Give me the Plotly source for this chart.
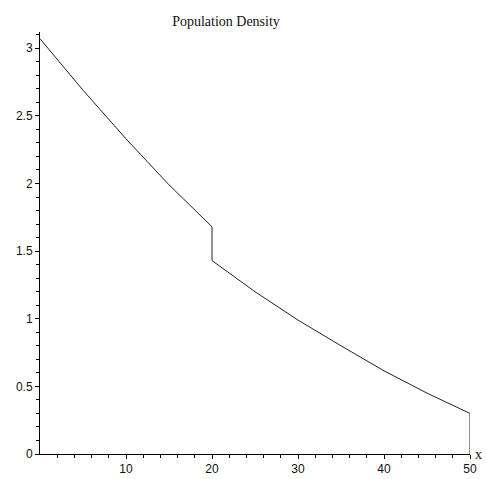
import plotly.graph_objects as go

# Data
x_vals = [0, 5, 10, 15, 20, 20, 25, 30, 35, 40, 45, 50, 50]
y_vals = [3.07, 2.69, 2.33, 1.99, 1.68, 1.43, 1.20, 0.99, 0.80, 0.615, 0.45, 0.30, 0.0]

x_ticks = [10, 20, 30, 40, 50]
x_minor = [2, 4, 6, 8, 12, 14, 16, 18, 22, 24, 26, 28, 32, 34, 36, 38, 42, 44, 46, 48]
y_ticks = [0, 0.5, 1, 1.5, 2, 2.5, 3]
y_ticktext = ["0", "0.5", "1", "1.5", "2", "2.5", "3"]
y_minor = [round(i * 0.1, 1) for i in range(0, 32) if i % 5 != 0]

fig = go.Figure()
fig.add_trace(go.Scatter(x=x_vals, y=y_vals, mode="lines",
                         line=dict(color="#222222", width=1), showlegend=False,
                         hoverinfo="skip"))

axis_font = dict(family="Liberation Sans, Arial, sans-serif", size=12, color="#111111")

fig.update_layout(
    width=487, height=479,
    margin=dict(l=40, r=17, t=32, b=25, autoexpand=False),
    paper_bgcolor="white", plot_bgcolor="white",
    title=dict(text="Population Density", x=226 / 487, xanchor="center",
               xref="container", y=1 - 21 / 479, yanchor="middle",
               font=dict(family="Liberation Serif, Times New Roman, serif", size=14,
                         color="#111111")),
    xaxis=dict(range=[0, 50], showline=True, linecolor="black", linewidth=1,
               showgrid=False, zeroline=False, ticks="outside", ticklen=4,
               tickcolor="black", tickvals=x_ticks, tickfont=axis_font,
               automargin=False,
               minor=dict(tickvals=x_minor, ticks="outside", ticklen=3,
                          tickcolor="black", showgrid=False)),
    yaxis=dict(range=[0, 3.12], showline=True, linecolor="black", linewidth=1,
               showgrid=False, zeroline=False, ticks="outside", ticklen=4,
               tickcolor="black", tickvals=y_ticks, ticktext=y_ticktext,
               tickfont=axis_font, automargin=False,
               minor=dict(tickvals=y_minor, ticks="outside", ticklen=3,
                          tickcolor="black", showgrid=False)),
    annotations=[dict(text="x", xref="paper", x=1, xanchor="left", xshift=3,
                      yref="y", y=0, yanchor="middle", showarrow=False,
                      font=dict(family="Liberation Serif, Times New Roman, serif",
                                size=14, color="#111111"))],
)

fig.write_html("out.html")
